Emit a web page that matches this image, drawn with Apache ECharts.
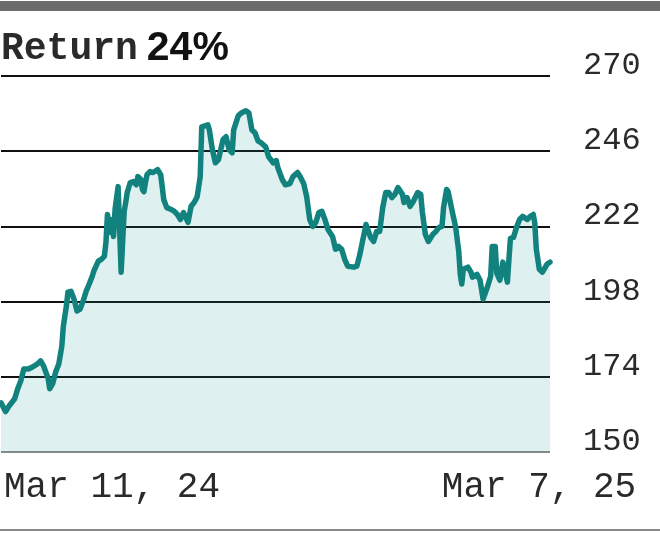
<!DOCTYPE html>
<html>
<head>
<meta charset="utf-8">
<script src="https://cdn.jsdelivr.net/npm/echarts@6/dist/echarts.min.js"></script>
<style>
html,body{margin:0;padding:0;background:#fff;}
#c{width:660px;height:533px;}
</style>
</head>
<body>
<div id="c"></div>
<script>
// Days since Mar 11, 2024
var days = [0,3,5,9,11,13,15,18,21,24,26,28,31,32,34,36,38,40,41,43,44,46,48,50,52,54,56,58,60,61,
64,66,68,69,70,72,73,74,75,77,79,81,82,83,85,87,89,90,92,93,94,95,96,98,100,103,105,106,107,109,
112,114,116,118,120,123,125,127,129,131,132,133,136,137,139,141,143,146,148,150,152,153,156,158,161,163,165,167,169,171,
174,176,179,181,182,185,187,190,192,195,197,199,201,203,205,207,209,211,213,215,218,220,222,224,226,228,232,234,236,238,
240,241,243,245,247,249,251,253,255,257,259,261,264,265,267,269,271,274,276,277,279,281,284,286,288,290,291,293,294,297,
299,301,302,303,304,307,309,310,313,315,317,320,322,323,325,326,328,330,331,333,334,335,337,339,341,343,346,348,350,351,
352,354,356,359,361];
var values = [165.7,162.9,164.5,167.0,170.2,172.7,176.5,176.5,177.2,178.1,179.1,177.5,173.4,170.2,171.8,175.6,178.1,183.8,190.2,196.6,201.0,201.3,198.8,195.0,195.6,198.2,201.3,203.6,206.1,207.7,
210.9,211.5,212.5,216.9,225.8,220.1,224.2,218.8,227.4,234.7,207.4,226.8,229.6,232.8,236.0,236.3,235.3,237.9,237.0,233.8,233.1,236.0,238.5,239.5,239.2,240.1,238.5,234.7,230.6,228.0,
227.4,226.8,225.8,224.2,226.4,223.3,228.4,229.6,231.5,237.9,253.8,253.8,254.4,252.8,246.5,242.3,243.3,249.7,250.6,246.5,245.5,252.8,257.3,258.2,258.9,258.2,252.8,251.9,249.3,248.7,
247.4,244.2,242.3,243.0,240.8,236.9,235.3,235.7,237.9,239.2,237.6,235.7,231.5,224.2,222.0,223.3,226.4,226.8,224.2,221.0,218.8,214.7,215.6,214.7,211.5,209.3,209.0,209.3,213.1,217.9,
222.6,222.6,218.5,217.2,220.4,220.4,228.0,232.8,232.8,231.2,232.2,234.4,232.2,229.6,231.2,228.4,229.9,232.8,232.2,226.8,219.5,217.2,219.5,220.4,221.7,222.0,228.0,233.8,233.1,226.1,
221.7,214.0,206.7,203.6,208.3,209.0,207.4,205.8,206.7,204.8,198.8,202.9,206.1,215.6,215.6,207.1,204.8,210.6,210.6,204.2,211.5,218.2,218.5,221.7,224.2,225.2,224.2,225.2,225.8,223.0,
214.7,208.3,207.4,209.9,210.6];
var xLabels = ['Mar 11, 24', 'Mar 7, 25'];
var yTicks = [150, 174, 198, 222, 246, 270];
var titleText = 'Return';
var returnText = '24%';

var chart = echarts.init(document.getElementById('c'), null, {renderer: 'canvas'});
var mono = '"Liberation Mono", "Courier New", monospace';
var lastDay = days[days.length - 1];
var yStep = yTicks[1] - yTicks[0];

chart.setOption({
  animation: false,
  backgroundColor: '#fff',
  title: {
    text: '{a|' + titleText + '}{b|' + returnText + '}',
    left: 1, top: 28, padding: 0,
    textStyle: {
      rich: {
        a: {fontFamily: mono, fontSize: 38, color: '#2a2a2a', lineHeight: 42, padding: [0, 9, 0, 0]},
        b: {fontFamily: 'Arial, "Liberation Sans", sans-serif', fontSize: 41, fontWeight: 'bold', color: '#111', lineHeight: 42}
      }
    }
  },
  graphic: [
    {type: 'rect', left: 0, top: 1, shape: {width: 660, height: 10}, style: {fill: '#6b6b6b'}, silent: true},
    {type: 'rect', left: 0, top: 529, shape: {width: 660, height: 2}, style: {fill: '#888'}, silent: true}
  ],
  grid: {left: 1, right: 110, top: 76, bottom: 81, outerBoundsMode: 'none', containLabel: false},
  xAxis: {
    type: 'value', min: 0, max: lastDay, interval: lastDay,
    axisLine: {show: false}, axisTick: {show: false}, splitLine: {show: false},
    axisLabel: {
      showMinLabel: true, showMaxLabel: true, hideOverlap: false, margin: 17,
      formatter: function (v) { return v === 0 ? '{a|' + xLabels[0] + '}' : '{b|' + xLabels[1] + '}'; },
      rich: {
        a: {fontFamily: mono, fontSize: 36, color: '#2a2a2a', lineHeight: 36, padding: [0, 0, 0, 222]},
        b: {fontFamily: mono, fontSize: 36, color: '#2a2a2a', lineHeight: 36, padding: [0, 22, 0, 0]}
      }
    }
  },
  yAxis: {
    type: 'value', position: 'right', min: yTicks[0], max: yTicks[yTicks.length - 1], interval: yStep,
    axisLine: {show: false}, axisTick: {show: false},
    splitLine: {show: true, lineStyle: {color: ['#8a8a8a', '#111', '#111', '#111', '#111', '#111'], width: 2}},
    axisLabel: {
      fontFamily: mono, fontSize: 32, color: '#2a2a2a', align: 'left', margin: 33,
      verticalAlign: 'bottom', lineHeight: 21
    }
  },
  series: [{
    type: 'line', symbol: 'none', smooth: false,
    data: days.map(function (d, i) { return [d, values[i]]; }),
    lineStyle: {color: '#12827f', width: 5.5, join: 'round', cap: 'round'},
    itemStyle: {color: '#12827f'},
    areaStyle: {color: 'rgba(18,150,150,0.2)'}
  }]
});
</script>
</body>
</html>
